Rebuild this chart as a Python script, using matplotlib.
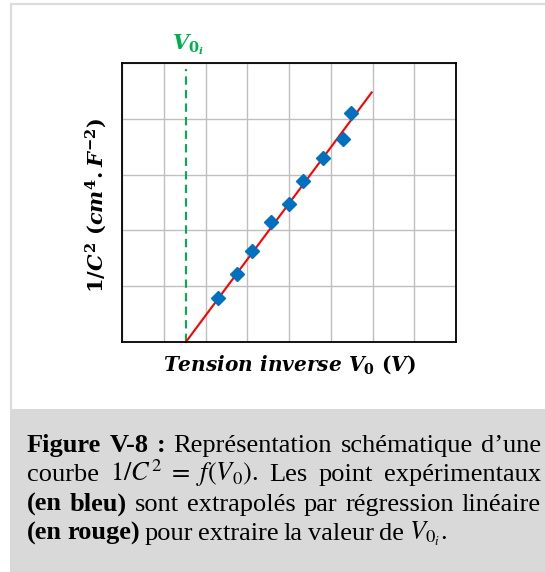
import numpy as np
import matplotlib
matplotlib.use("Agg")
import matplotlib.pyplot as plt
from matplotlib.patches import Rectangle
from matplotlib.lines import Line2D

W, H = 545, 572

# points experimentaux (unites de grille)
v_exp = [2.31, 2.75, 3.11, 3.56, 4.01, 4.34, 4.82, 5.30, 5.49]
inv_c2 = [0.78, 1.21, 1.63, 2.15, 2.48, 2.89, 3.29, 3.63, 4.10]
# regression lineaire
v0i = 1.53
fit_slope = 1.005
fit_xmax = 5.98

caption_lines = [
    [("Figure", "bold"), ("V-8", "bold"), (":", "bold"), ("Représentation", "normal"),
     ("schématique", "normal"), ("d’une", "normal")],
    [("courbe", "normal"), (r"$1/C^2\ =\ f(V_0)$.", "normal"), ("Les", "normal"),
     ("point", "normal"), ("expérimentaux", "normal")],
    [("(en", "bold"), ("bleu)", "bold"), ("sont", "normal"), ("extrapolés", "normal"),
     ("par", "normal"), ("régression", "normal"), ("linéaire", "normal")],
    [("(en", "bold"), ("rouge)", "bold"), ("pour", "normal"), ("extraire", "normal"),
     ("la", "normal"), ("valeur", "normal"), ("de", "normal"), (r"$V_{0_i}$.", "normal")],
]

plt.rcParams["mathtext.fontset"] = "custom"
plt.rcParams["mathtext.it"] = "DejaVu Serif:italic:bold"
plt.rcParams["mathtext.rm"] = "DejaVu Serif:bold"
plt.rcParams["mathtext.bf"] = "DejaVu Serif:bold"


def fx(x): return x / W
def fy(y): return 1 - y / H


fig = plt.figure(figsize=(W / 100, H / 100), dpi=100)
fig.patch.set_facecolor("white")

# cadre gris clair + bandeau de legende
fig.add_artist(Rectangle((fx(10), fy(572)), fx(545 - 10), 163 / H, transform=fig.transFigure,
                         facecolor="#d9d9d9", edgecolor="none"))
fig.add_artist(Line2D([fx(11), fx(11), fx(545)], [fy(409), fy(4), fy(4)],
                      transform=fig.transFigure, color="#dcdcdc", lw=1.6))

ax = fig.add_axes([fx(122), fy(342), 334 / W, 279 / H])
ax.set_xlim(0, 8)
ax.set_ylim(0, 5)
ax.set_xticks(np.arange(0, 9))
ax.set_yticks(np.arange(0, 6))
ax.tick_params(length=0, labelbottom=False, labelleft=False)
ax.grid(True, color="#bfbfbf", lw=1.0)
ax.set_axisbelow(True)
for s in ax.spines.values():
    s.set_linewidth(1.3)
    s.set_color("black")

ax.axvline(v0i, ymin=0, ymax=0.98, color="#00b050", lw=1.5, ls=(0, (4, 2.5)))
xf = np.array([v0i, fit_xmax])
ax.plot(xf, fit_slope * (xf - v0i), color="#ff0000", lw=1.5, clip_on=False)
ax.plot(v_exp, inv_c2, ls="none", marker="D", ms=7, color="#0070c0", mec="#0070c0")

fig.text(fx(188), fy(45), r"$V_{0_i}$", color="#00b050", fontsize=15,
         ha="center", va="center", math_fontfamily="custom")
fig.text(fx(289), fy(365), r"$Tension\ inverse\ V_0\ (V)$", fontsize=14.5,
         ha="center", va="center", math_fontfamily="custom")
fig.text(fx(96), fy(205), r"$1/C^2\ (cm^4 . F^{-2})$", fontsize=15, rotation=90,
         ha="center", va="center", math_fontfamily="custom")

# legende justifiee
renderer = fig.canvas.get_renderer()
x0, x1 = 27, 541
baselines = [452, 481, 511, 540]
for i, (words, yb) in enumerate(zip(caption_lines, baselines)):
    texts = []
    for w, wt in words:
        t = fig.text(0, fy(yb), w, fontsize=19, family="Liberation Serif", weight=wt,
                     va="baseline", ha="left", math_fontfamily="stix")
        texts.append(t)
    widths = [t.get_window_extent(renderer).width for t in texts]
    if i < len(caption_lines) - 1:
        gap = (x1 - x0 - sum(widths)) / (len(texts) - 1)
    else:
        gap = 5
    x = x0
    for t, w in zip(texts, widths):
        t.set_x(fx(x))
        x += w + gap

fig.savefig("out.png", dpi=100)
